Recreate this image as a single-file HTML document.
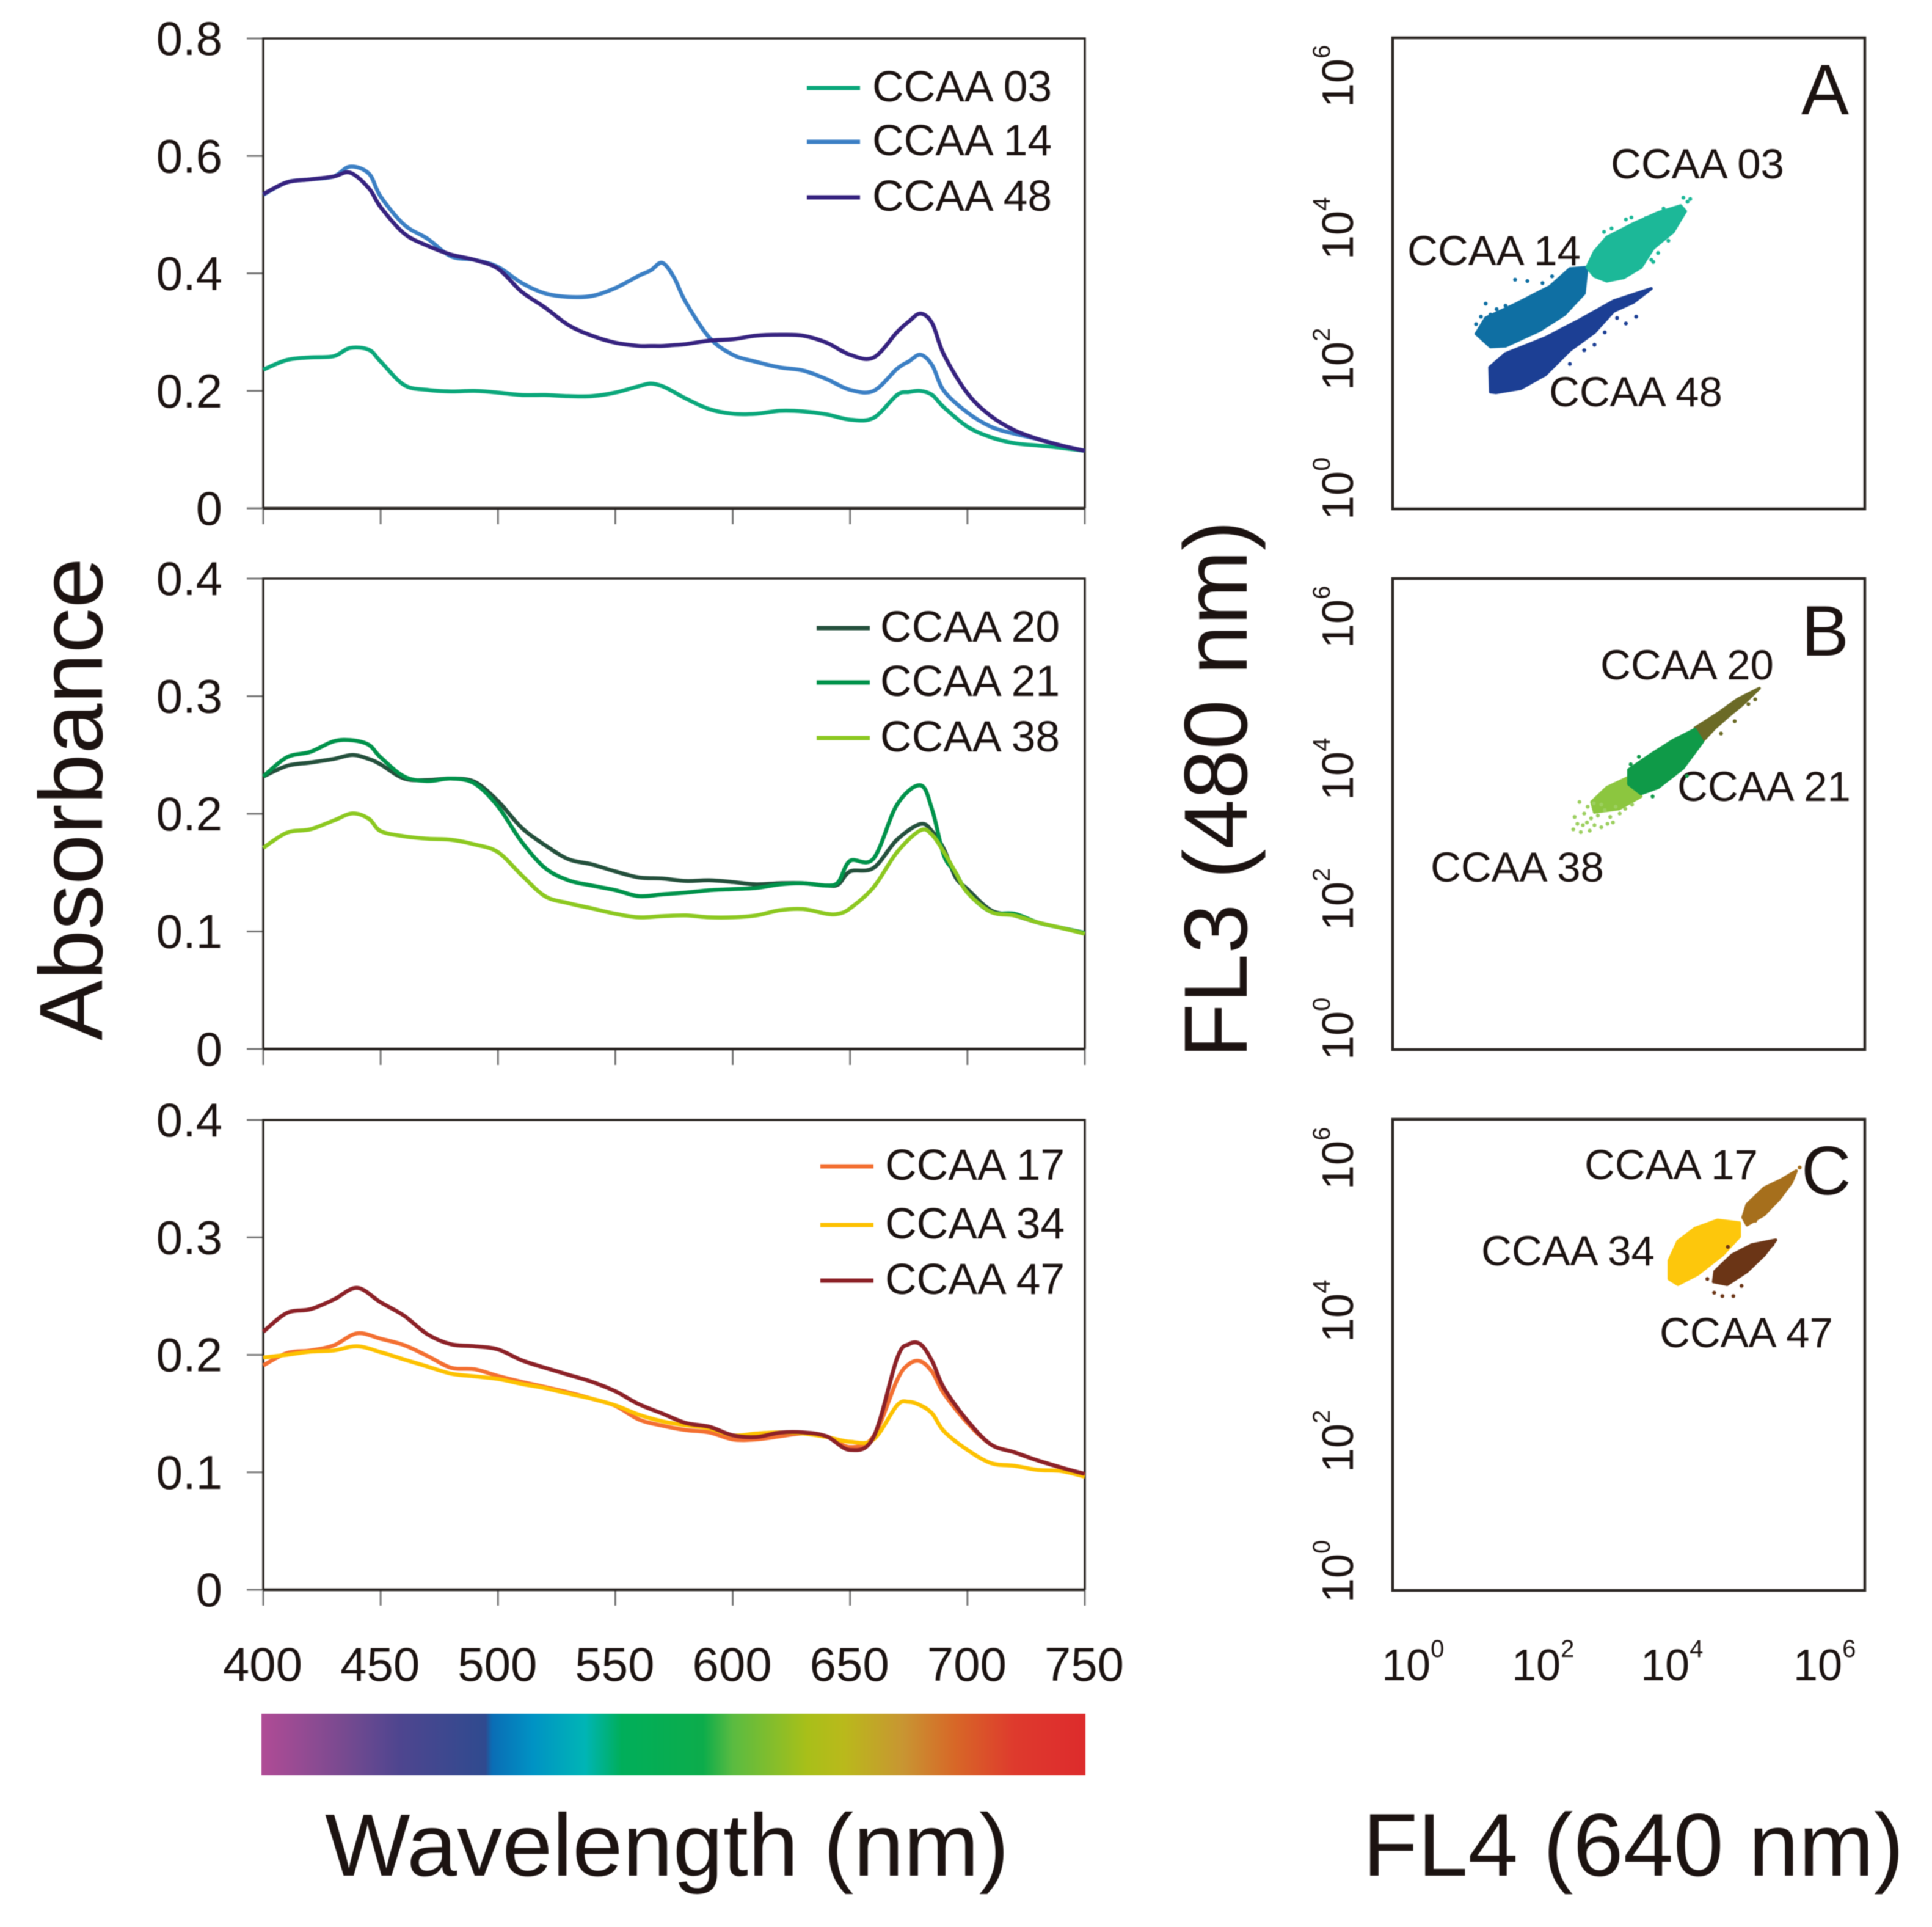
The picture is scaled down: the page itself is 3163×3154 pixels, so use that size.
<!DOCTYPE html>
<html lang="en">
<head>
<meta charset="utf-8">
<title>Absorbance spectra and flow cytometry of CCAA strains</title>
<style>
html,body{margin:0;padding:0;background:#fff;}
svg{display:block;filter:blur(0.7px);}
text{font-family:"Liberation Sans",Arial,sans-serif;fill:#1c1311;}
</style>
</head>
<body>
<svg id="figure" xmlns="http://www.w3.org/2000/svg" width="3163" height="3154" viewBox="0 0 3163 3154">
<defs>
<linearGradient id="spectrum" x1="0" x2="1" y1="0" y2="0">
<stop offset="0" stop-color="#b04b95"/><stop offset=".096" stop-color="#7a4a90"/><stop offset=".168" stop-color="#4e458f"/><stop offset=".272" stop-color="#2f4a8f"/><stop offset=".28" stop-color="#0a6db5"/><stop offset=".33" stop-color="#0093c4"/><stop offset=".393" stop-color="#00b5b5"/><stop offset=".437" stop-color="#00ae5a"/><stop offset=".536" stop-color="#0cac4b"/><stop offset=".572" stop-color="#5abb41"/><stop offset=".662" stop-color="#a8bf19"/><stop offset=".707" stop-color="#b9b91b"/><stop offset=".779" stop-color="#c89532"/><stop offset=".842" stop-color="#d76727"/><stop offset=".914" stop-color="#de3a2d"/><stop offset="1" stop-color="#dd2b2c"/>
</linearGradient>
</defs>
<rect x="428" y="2805" width="1349" height="101" fill="url(#spectrum)"/>
<text x="532" y="3070" font-size="145" textLength="1120" lengthAdjust="spacingAndGlyphs">Wavelength (nm)</text>
<text x="2231" y="3070" font-size="146" textLength="886" lengthAdjust="spacingAndGlyphs">FL4 (640 nm)</text>
<text transform="translate(167,1703) rotate(-90)" font-size="147" textLength="790" lengthAdjust="spacingAndGlyphs">Absorbance</text>
<text transform="translate(2041,1732) rotate(-90)" font-size="147" textLength="880" lengthAdjust="spacingAndGlyphs">FL3 (480 nm)</text>
<text x="2949" y="187" font-size="117">A</text>
<text x="2949" y="1073" font-size="117">B</text>
<text x="2949" y="1955" font-size="113">C</text>
<text x="2637" y="292" font-size="69">CCAA 03</text>
<text x="2304" y="434" font-size="69">CCAA 14</text>
<text x="2536" y="665" font-size="69">CCAA 48</text>
<text x="2620" y="1112" font-size="69">CCAA 20</text>
<text x="2746" y="1311" font-size="69">CCAA 21</text>
<text x="2342" y="1443" font-size="69">CCAA 38</text>
<text x="2594" y="1930" font-size="69">CCAA 17</text>
<text x="2425" y="2071" font-size="69">CCAA 34</text>
<text x="2717" y="2205" font-size="69">CCAA 47</text>
</svg>
<script>
// ---------- Absorbance spectra data ----------
const xTickValues = [400,450,500,550,600,650,700,750];
const topYTicks = [0,0.2,0.4,0.6,0.8];
const lowerYTicks = [0,0.1,0.2,0.3,0.4];

const wavelengthsA = [400,410,420,430,437,445,450,460,470,480,490,500,510,520,530,540,550,560,565,570,575,580,590,600,610,620,630,640,650,660,670,675,680,685,690,700,710,720,730,740,750];
const ccaa03 = [.236,.2525,.257,.259,.273,.27,.25,.21,.2017,.199,.2,.197,.193,.193,.191,.191,.197,.208,.2125,.208,.198,.187,.169,.161,.161,.166,.165,.16,.151,.154,.193,.198,.2,.193,.172,.139,.121,.111,.107,.103,.098];
const ccaa14 = [.534,.555,.56,.565,.582,.57,.531,.483,.459,.429,.423,.411,.384,.366,.36,.3615,.375,.396,.405,.418,.393,.351,.291,.2615,.2495,.24,.2346,.22,.2017,.2,.2376,.25,.2615,.2435,.2,.163,.139,.127,.118,.107,.098];
const ccaa48 = [.535,.555,.56,.565,.5715,.545,.513,.468,.447,.432,.423,.408,.369,.342,.312,.294,.282,.2765,.2765,.2765,.278,.2795,.2855,.288,.294,.2956,.294,.282,.2615,.2567,.30,.318,.3315,.315,.2615,.1957,.157,.133,.118,.107,.098];

const wavelengthsB = [400,410,420,430,438,445,450,460,470,480,490,500,510,520,530,540,550,560,570,580,590,600,610,620,630,640,645,650,660,670,680,685,690,695,700,710,720,730,740,750];
const ccaa20 = [.2317,.2407,.2436,.2466,.25,.2466,.242,.23,.2287,.23,.2272,.2108,.1883,.1734,.1614,.157,.151,.1459,.145,.1429,.1435,.142,.14,.141,.141,.139,.14,.151,.154,.178,.1913,.185,.17,.146,.136,.118,.1136,.1076,.103,.0987];
const ccaa21 = [.2317,.248,.2526,.2616,.2625,.2586,.248,.2317,.2278,.23,.2257,.2063,.1764,.154,.1435,.139,.1351,.13,.1315,.133,.135,.136,.137,.14,.141,.139,.142,.16,.162,.2078,.2242,.2033,.1644,.15,.133,.1166,.115,.1076,.103,.0987];
const ccaa38 = [.171,.1839,.1868,.1943,.2003,.1958,.1853,.1809,.1788,.1779,.174,.1674,.148,.13,.124,.1196,.115,.112,.113,.1136,.112,.112,.1136,.118,.119,.115,.115,.1196,.1375,.1674,.186,.182,.1674,.15,.133,.1166,.1136,.1076,.103,.098];

const wavelengthsC = [400,410,420,430,440,450,460,470,480,490,500,510,520,530,540,550,560,570,580,590,600,610,620,630,640,650,660,670,675,680,685,690,700,710,720,730,740,750];
const ccaa17 = [.191,.2014,.2037,.208,.2183,.2137,.2082,.199,.189,.1877,.182,.177,.1726,.168,.1626,.1566,.145,.1397,.136,.134,.128,.128,.1306,.133,.1306,.1215,.1306,.1785,.192,.1945,.1854,.167,.142,.1237,.117,.11,.104,.0977];
const ccaa34 = [.1977,.2,.2027,.2037,.2073,.2023,.196,.19,.184,.1817,.1795,.1753,.1717,.167,.1626,.157,.149,.1434,.14,.1374,.1315,.133,.134,.133,.13,.126,.128,.157,.16,.157,.15,.135,.119,.1078,.1055,.102,.101,.0963];
const ccaa47 = [.2196,.2356,.2388,.247,.257,.2447,.2333,.2174,.209,.2073,.2046,.1954,.189,.183,.177,.169,.158,.15,.142,.1388,.1315,.13,.1338,.134,.1306,.119,.13,.197,.209,.209,.1945,.1717,.144,.1237,.117,.11,.104,.0986];

// ---------- Flow-cytometry data, in log10 decades [FL4, FL3] ----------
const logTickLabels = ['0','2','4','6'];
const outline03 = [[2.84,3.53],[2.95,3.76],[3.13,3.97],[3.52,4.17],[3.88,4.33],[4.21,4.43],[4.28,4.35],[4.10,4.05],[3.81,3.81],[3.63,3.53],[3.38,3.38],[3.13,3.33],[2.95,3.40]];
const outline14 = [[2.84,3.53],[2.80,3.15],[2.51,2.84],[2.15,2.61],[1.65,2.38],[1.43,2.37],[1.22,2.56],[1.36,2.79],[1.79,2.99],[2.30,3.25],[2.59,3.51]];
const outline48 = [[3.78,3.22],[3.52,3.02],[3.23,2.89],[2.95,2.58],[2.59,2.32],[2.23,1.96],[1.87,1.76],[1.51,1.70],[1.43,1.71],[1.42,2.07],[1.65,2.27],[2.23,2.50],[2.73,2.76],[3.23,3.04]];
const outline20 = [[5.36,5.28],[5.04,5.12],[4.75,4.91],[4.42,4.70],[4.53,4.51],[4.71,4.70],[4.89,4.86],[5.11,5.04]];
const outline21 = [[4.42,4.68],[4.10,4.52],[3.74,4.29],[3.45,4.09],[3.45,3.88],[3.63,3.74],[3.88,3.83],[4.24,4.11],[4.53,4.50]];
const outline38 = [[3.45,3.98],[3.13,3.83],[2.91,3.62],[2.95,3.47],[3.31,3.52],[3.63,3.70]];
const outline17 = [[5.90,6.13],[5.68,6.00],[5.43,5.88],[5.18,5.64],[5.12,5.45],[5.18,5.34],[5.43,5.49],[5.65,5.72],[5.83,5.96]];
const outline34 = [[5.07,5.37],[4.75,5.41],[4.42,5.29],[4.17,5.10],[4.04,4.82],[4.04,4.55],[4.17,4.47],[4.46,4.62],[4.82,4.90],[5.07,5.17]];
const outline47 = [[5.60,5.12],[5.25,5.05],[4.96,4.90],[4.71,4.66],[4.69,4.51],[4.89,4.47],[5.18,4.66],[5.43,4.90]];

const specks03 = [[4.35,4.53],[4.25,4.55],[4.31,4.49],[3.96,4.39],[3.70,4.25],[3.41,4.23],[3.49,4.26],[3.09,4.05],[3.20,4.10],[4.03,3.92],[3.88,3.74],[3.78,3.64],[4.14,4.17],[3.81,3.61]];
const specks14 = [[1.79,3.35],[1.97,3.33],[1.36,3.00],[1.43,2.84],[1.29,2.81],[1.65,2.97],[2.19,3.30],[2.33,3.40],[1.22,2.70],[1.52,2.92]];
const specks48 = [[3.56,2.81],[3.41,2.71],[2.95,2.40],[2.80,2.32],[2.59,2.12],[2.37,2.12],[2.08,2.02],[1.87,1.84],[3.10,2.58],[3.28,2.79]];
const specks20 = [[5.30,5.12],[5.20,5.05],[5.00,4.80],[4.80,4.62],[4.60,4.80]];
const specks21 = [[3.48,4.17],[3.60,4.28],[3.80,3.70],[4.30,4.00],[4.20,4.40]];
const specks38 = [[2.73,3.62],[2.85,3.55],[2.80,3.45],[2.66,3.40],[2.70,3.30],[2.64,3.22],[2.75,3.18],[2.88,3.20],[2.95,3.28],[3.05,3.25],[2.90,3.38],[3.00,3.42],[3.10,3.50],[3.18,3.40],[3.22,3.32],[3.32,3.45],[3.40,3.52],[2.94,3.60],[3.05,3.58],[3.14,3.30],[2.78,3.28],[2.84,3.32],[3.26,3.55],[3.50,3.58]];
const specks17 = [[5.95,6.18],[5.80,6.05],[5.55,5.65],[5.30,5.40]];
const specks47 = [[4.70,4.35],[4.82,4.30],[4.60,4.55],[4.98,4.30],[5.35,5.05],[5.55,5.05],[4.90,5.02],[5.10,4.45]];

// ---------- Layout ----------
const SVGNS = 'http://www.w3.org/2000/svg';
const root = document.getElementById('figure');
const specLeft = 431, specRight = 1776;
const xScale = nm => specLeft + (nm - 400) * (specRight - specLeft) / 350;

const specPanels = [
  {id:'a', top:63, bottom:832, yMax:0.8, ticks:topYTicks, wl:wavelengthsA, legendX:1321, legendTextX:1428,
   series:[{n:'CCAA 03',v:ccaa03,c:'#0aa77a',ly:144},{n:'CCAA 14',v:ccaa14,c:'#3b7fc4',ly:232},{n:'CCAA 48',v:ccaa48,c:'#36227f',ly:323}]},
  {id:'b', top:947, bottom:1717, yMax:0.4, ticks:lowerYTicks, wl:wavelengthsB, legendX:1337, legendTextX:1441,
   series:[{n:'CCAA 20',v:ccaa20,c:'#24503c',ly:1028},{n:'CCAA 21',v:ccaa21,c:'#00924a',ly:1117},{n:'CCAA 38',v:ccaa38,c:'#8cc820',ly:1208}]},
  {id:'c', top:1833, bottom:2602, yMax:0.4, ticks:lowerYTicks, wl:wavelengthsC, legendX:1343, legendTextX:1449,
   series:[{n:'CCAA 17',v:ccaa17,c:'#f36f31',ly:1909},{n:'CCAA 34',v:ccaa34,c:'#fdc100',ly:2005},{n:'CCAA 47',v:ccaa47,c:'#8c2127',ly:2096}]}
];

function smoothPath(pts) {
  let d = 'M' + pts[0][0].toFixed(1) + ' ' + pts[0][1].toFixed(1);
  for (let i = 0; i < pts.length - 1; i++) {
    const p0 = pts[Math.max(i - 1, 0)], p1 = pts[i], p2 = pts[i + 1], p3 = pts[Math.min(i + 2, pts.length - 1)];
    const c1x = p1[0] + (p2[0] - p0[0]) / 6, c1y = p1[1] + (p2[1] - p0[1]) / 6;
    const c2x = p2[0] - (p3[0] - p1[0]) / 6, c2y = p2[1] - (p3[1] - p1[1]) / 6;
    d += 'C' + c1x.toFixed(1) + ' ' + c1y.toFixed(1) + ' ' + c2x.toFixed(1) + ' ' + c2y.toFixed(1) + ' ' + p2[0].toFixed(1) + ' ' + p2[1].toFixed(1);
  }
  return d;
}
function line(x1, y1, x2, y2, stroke, w) {
  const el = document.createElementNS(SVGNS, 'line');
  el.setAttribute('x1', x1);
  el.setAttribute('y1', y1);
  el.setAttribute('x2', x2);
  el.setAttribute('y2', y2);
  el.setAttribute('stroke', stroke);
  el.setAttribute('stroke-width', w);
  root.appendChild(el);
  return el;
}
function label(x, y, size, str, anchor) {
  const el = document.createElementNS(SVGNS, 'text');
  el.setAttribute('x', x);
  el.setAttribute('y', y);
  el.setAttribute('font-size', size);
  if (anchor) el.setAttribute('text-anchor', anchor);
  el.textContent = str;
  root.appendChild(el);
  return el;
}

specPanels.forEach(p => {
  const yScale = v => p.bottom - v * (p.bottom - p.top) / p.yMax;

  p.ticks.forEach(t => {
    const tick = line(specLeft - 27, yScale(t), specLeft, yScale(t), '#777', 3);
    
    
    const tl = label(364, yScale(t) + 27, 78, String(t), 'end');
    
    
  });
  xTickValues.forEach(nm => {
    const tick = line(xScale(nm), p.bottom, xScale(nm), p.bottom + 26, '#777', 3);
    
    
  });

  const frame = document.createElementNS(SVGNS, 'path');
  frame.setAttribute('d', 'M' + specLeft + ' ' + p.bottom + 'V' + p.top + 'H' + specRight + 'V' + p.bottom);
  frame.setAttribute('fill', 'none');
  frame.setAttribute('stroke', '#2a2522');
  frame.setAttribute('stroke-width', 3.5);
  
  
  root.appendChild(frame);

  const base = line(specLeft, p.bottom, specRight, p.bottom, '#2a2522', 4.5);
  
  

  p.series.forEach(s => {
    const path = document.createElementNS(SVGNS, 'path');
    const pts = s.v.map((v, i) => [xScale(p.wl[i]), yScale(v)]);
    path.setAttribute('d', smoothPath(pts));
    path.setAttribute('fill', 'none');
    path.setAttribute('stroke', s.c);
    path.setAttribute('stroke-width', 6.5);
    path.setAttribute('stroke-linejoin', 'round');
    
    
    root.appendChild(path);

    const key = line(p.legendX, s.ly, p.legendX + 87, s.ly, s.c, 7);
    
    
    const txt = label(p.legendTextX, s.ly + 22, 71.5, s.n);
    
    
  });
});

xTickValues.forEach(nm => {
  const tl = label(xScale(nm) - 1, 2751, 78, String(nm), 'middle');
  
  
});

// ---------- Scatter panels ----------
const cytoLeft = 2280, cytoRight = 3053, decadePx = 112;
const cytoPanels = [
  {id:'a', top:62, bottom:833, tickStarts:[851,639,425,176],
   clusters:[{n:'ccaa-14',o:outline14,s:specks14,c:'#0f6fa3',k:'#0f6fa3'},{n:'ccaa-03',o:outline03,s:specks03,c:'#1cb898',k:'#1cb898'},{n:'ccaa-48',o:outline48,s:specks48,c:'#1c3f94',k:'#1c3f94'}]},
  {id:'b', top:947, bottom:1718, tickStarts:[1735,1523,1310,1061],
   clusters:[{n:'ccaa-20',o:outline20,s:specks20,c:'#6b6a26',k:'#6b6a26'},{n:'ccaa-38',o:outline38,s:specks38,c:'#8cc63f',k:'#9ccf5f'},{n:'ccaa-21',o:outline21,s:specks21,c:'#0f9a48',k:'#0f9a48'}]},
  {id:'c', top:1832, bottom:2603, tickStarts:[2623,2410,2197,1947],
   clusters:[{n:'ccaa-17',o:outline17,s:specks17,c:'#a66f1c',k:'#a66f1c'},{n:'ccaa-34',o:outline34,s:[],c:'#fdc70c',k:'#fdc70c'},{n:'ccaa-47',o:outline47,s:specks47,c:'#6b3516',k:'#6b3516'}]}
];

function powerLabel(parent, sup) {
  const base = document.createTextNode('10');
  parent.appendChild(base);
  const t = document.createElementNS(SVGNS, 'tspan');
  t.setAttribute('font-size', 40);
  t.setAttribute('dy', -38);
  t.textContent = sup;
  parent.appendChild(t);
}

cytoPanels.forEach(p => {
  const lx = v => cytoLeft + v * decadePx;
  const ly = v => p.bottom - v * decadePx;

  p.clusters.forEach(cl => {
    const poly = document.createElementNS(SVGNS, 'polygon');
    poly.setAttribute('points', cl.o.map(q => lx(q[0]).toFixed(1) + ',' + ly(q[1]).toFixed(1)).join(' '));
    poly.setAttribute('fill', cl.c);
    poly.setAttribute('stroke', cl.c);
    poly.setAttribute('stroke-width', 5);
    poly.setAttribute('stroke-linejoin', 'round');
    
    
    root.appendChild(poly);
    cl.s.forEach(q => {
      const dot = document.createElementNS(SVGNS, 'circle');
      dot.setAttribute('cx', lx(q[0]).toFixed(1));
      dot.setAttribute('cy', ly(q[1]).toFixed(1));
      dot.setAttribute('r', 3.2);
      dot.setAttribute('fill', cl.k);
      
      
      root.appendChild(dot);
    });
  });

  const box = document.createElementNS(SVGNS, 'rect');
  box.setAttribute('x', cytoLeft);
  box.setAttribute('y', p.top);
  box.setAttribute('width', cytoRight - cytoLeft);
  box.setAttribute('height', p.bottom - p.top);
  box.setAttribute('fill', 'none');
  box.setAttribute('stroke', '#2a2522');
  box.setAttribute('stroke-width', 4.5);
  
  
  root.appendChild(box);

  logTickLabels.forEach((sup, i) => {
    const t = document.createElementNS(SVGNS, 'text');
    t.setAttribute('transform', 'translate(2215,' + p.tickStarts[i] + ') rotate(-90)');
    t.setAttribute('font-size', 72);
    
    
    powerLabel(t, sup);
    root.appendChild(t);
  });
});

const fl4TickStarts = [2262,2475,2686,2936];
logTickLabels.forEach((sup, i) => {
  const t = document.createElementNS(SVGNS, 'text');
  t.setAttribute('x', fl4TickStarts[i]);
  t.setAttribute('y', 2750);
  t.setAttribute('font-size', 72);
  
  
  powerLabel(t, sup);
  root.appendChild(t);
});
</script>
</body>
</html>
